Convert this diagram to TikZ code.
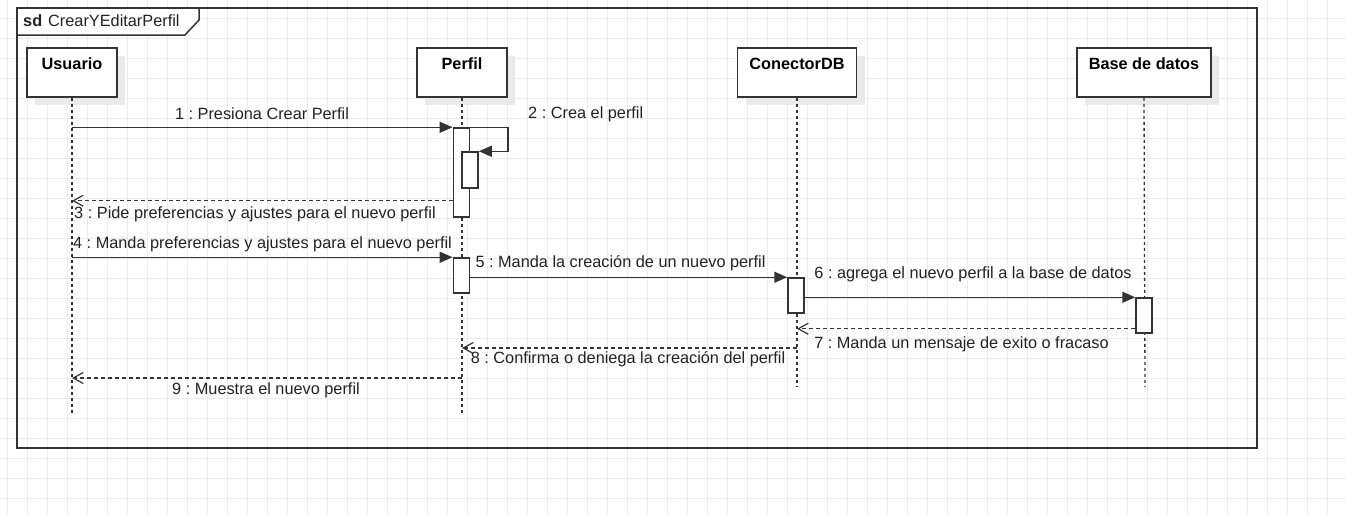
\documentclass[tikz,border=0pt]{standalone}
\usepackage{fontspec}
\setmainfont{Liberation Sans}
\usetikzlibrary{arrows.meta,shadows}
\definecolor{lc}{RGB}{51,51,51}
\definecolor{tc}{RGB}{34,34,34}
\definecolor{gridc}{RGB}{236,236,236}
\definecolor{shadowc}{RGB}{234,234,234}
\frenchspacing
\begin{document}
\begin{tikzpicture}[x=1pt,y=-1pt,
  font=\fontsize{16.3}{19}\selectfont,
  head/.style={draw=lc,line width=1.5pt,fill=white,minimum width=90pt,minimum height=49pt,inner sep=0pt,
    drop shadow={shadow xshift=8pt,shadow yshift=-8pt,fill=shadowc,opacity=1}},
  headtxt/.style={anchor=north,yshift=-7pt,font=\fontsize{16.3}{19}\selectfont\bfseries,text=black},
  act/.style={draw=lc,line width=1.5pt,fill=white,minimum width=16pt,inner sep=0pt},
  lifeline/.style={draw=lc,line width=1.3pt,dash pattern=on 3pt off 3pt},
  msg/.style={draw=lc,line width=1.5pt,-{Triangle[length=13pt,width=11pt]}},
  ret/.style={draw=lc,line width=1.3pt,dash pattern=on 4pt off 3pt,-{Straight Barb[length=10pt,width=11pt,line width=1.2pt]}},
  lbl/.style={text=tc,inner sep=0pt}]
\useasboundingbox (0,0) rectangle (1346,515);
\fill[white] (0,0) rectangle (1346,515);
\foreach \x in {7.3,27.3,...,1346} \draw[gridc,line width=1pt] (\x,0) -- (\x,515);
\foreach \y in {18.3,38.3,...,515} \draw[gridc,line width=1pt] (0,\y) -- (1346,\y);

% frame
\draw[lc,line width=1.6pt] (17,8) rectangle (1257,448);
\draw[lc,line width=1.5pt,fill=white] (17,8) -- (199,8) -- (199,20) -- (185,35) -- (17,35) -- cycle;
\node[anchor=west,inner sep=0pt,text=tc] (title) at (23,21) {\textbf{sd}\hspace{6pt}CrearYEditarPerfil};

% heads
\node[head] (usr) at (72,72.5) {};
\node[headtxt] (usrT) at (usr.north) {Usuario};
\node[head] (per) at (462,72.5) {};
\node[headtxt] (perT) at (per.north) {Perfil};
\node[head,minimum width=119pt] (cdb) at (797,72.5) {};
\node[headtxt] (cdbT) at (cdb.north) {ConectorDB};
\node[head,minimum width=134pt] (bd) at (1144,72.5) {};
\node[headtxt] (bdT) at (bd.north) {Base de datos};

% lifelines
\coordinate (usrE) at (72,415);
\coordinate (perE) at (462,415);
\coordinate (cdbE) at (797,387);
\coordinate (bdE) at (1145,387);
\draw[lifeline] (usr.south) -- (usrE);
\draw[lifeline] (per.south) -- (perE);
\draw[lifeline] (cdb.south) -- (cdbE);
\draw[lifeline] (bd.south) -- (bdE);

% activations
\node[act,minimum height=89pt] (pa1) at (461.3,172.5) {};
\node[act,minimum height=36pt] (pa2) at (470,170) {};
\node[act,minimum height=35pt] (pa3) at (461.3,275.5) {};
\node[act,minimum height=35pt] (ca1) at (796,295.5) {};
\node[act,minimum height=35pt] (ba1) at (1144,315.5) {};

\coordinate (y8) at (0,348);
\coordinate (y9) at (0,378);

% messages
\draw[msg] (usr.south |- pa1.north) -- (pa1.north west);
\draw[msg] (pa1.north east) -- ++(38,0) |- (pa2.north east);
\draw[ret] ([yshift=17pt]pa1.south west) coordinate (m3) -- (m3 -| usr.south);
\draw[msg] (usr.south |- pa3.north) -- (pa3.north west);
\draw[msg] (pa3.east |- ca1.north) -- (ca1.north west);
\draw[msg] (ca1.east |- ba1.north) -- (ba1.north west);
\draw[ret] ([yshift=5pt]ba1.south west) coordinate (m7) -- (m7 -| cdb.south);
\draw[ret] (cdb.south |- y8) -- (per.south |- y8);
\draw[ret] (per.south |- y9) -- (usr.south |- y9);

% labels
\node[lbl] (l1) at (262,114) {1 : Presiona Crear Perfil};
\node[lbl,anchor=west] (l2) at (528,114) {2 : Crea el perfil};
\node[lbl] (l3) at (255,214) {3 : Pide preferencias y ajustes para el nuevo perfil};
\node[lbl] (l4) at (262.5,244) {4 : Manda preferencias y ajustes para el nuevo perfil};
\node[lbl] (l5) at (620.5,263.5) {5 : Manda la creación de un nuevo perfil};
\node[lbl] (l6) at (973,274.5) {6 : agrega el nuevo perfil a la base de datos};
\node[lbl] (l7) at (961.5,344.5) {7 : Manda un mensaje de exito o fracaso};
\node[lbl] (l8) at (628,359.5) {8 : Confirma o deniega la creación del perfil};
\node[lbl] (l9) at (266,390) {9 : Muestra el nuevo perfil};
\end{tikzpicture}
\end{document}
